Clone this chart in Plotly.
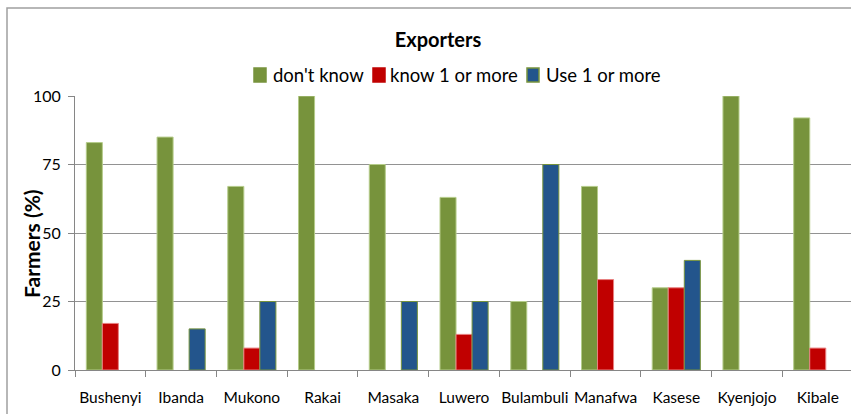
import plotly.graph_objects as go

districts = ["Bushenyi", "Ibanda", "Mukono", "Rakai", "Masaka", "Luwero",
             "Bulambuli", "Manafwa", "Kasese", "Kyenjojo", "Kibale"]
dont_know = [83, 85, 67, 100, 75, 63, 25, 67, 30, 100, 92]
know_one_or_more = [17, 0, 8, 0, 0, 13, 0, 33, 30, 0, 8]
use_one_or_more = [0, 15, 25, 0, 25, 25, 75, 0, 40, 0, 0]
y_ticks = [0, 25, 50, 75, 100]

series_names = ["don't know", "know 1 or more", "Use 1 or more"]
series_values = [dont_know, know_one_or_more, use_one_or_more]
fill_colors = ["#77933C", "#C00000", "#23558C"]
edge_colors = ["#B5CC8A", "#E88080", "#77933C"]

FONT = "Lato, 'Open Sans', sans-serif"

# plot-area pixel geometry used to place the frame, legend and axis title
L, R, T, B = 75, 851, 96, 370
def px_x(p):
    return (p - L) / (R - L)
def px_y(p):
    return (B - p) / (B - T)

fig = go.Figure()
for name, vals, fc, ec in zip(series_names, series_values, fill_colors, edge_colors):
    fig.add_bar(
        x=districts, y=vals, name=name, showlegend=False,
        marker=dict(color=fc,
                    line=dict(color=ec, width=[1 if v > 0 else 0 for v in vals])),
    )

fig.update_layout(
    width=851, height=414,
    margin=dict(l=L, r=851 - R, t=T, b=414 - B),
    paper_bgcolor="white", plot_bgcolor="white",
    barmode="group", bargap=0.32, bargroupgap=0.0,
    font=dict(family=FONT, color="#000000"),
    title=dict(text="<b>Exporters</b>", x=438 / 851, xanchor="center",
               y=1 - 40 / 414, yanchor="middle", yref="container",
               font=dict(size=20, family=FONT)),
    showlegend=False,
)
fig.update_xaxes(
    range=[-0.5, 10.47], tickson="boundaries", ticks="outside", tickangle=0,
    ticklen=6, tickcolor="#868686", showline=True, linecolor="#868686",
    linewidth=1, tickfont=dict(size=15.5, family=FONT), showgrid=False,
    ticklabelstandoff=13,
)
fig.update_yaxes(
    range=[0, 100], tickvals=y_ticks, ticks="outside", ticklen=6,
    tickcolor="#868686", showline=True, linecolor="#868686", linewidth=1,
    showgrid=True, gridcolor="#929292", gridwidth=1, zeroline=False,
    tickfont=dict(size=16, family=FONT), ticklabelstandoff=4,
)

# y-axis title
fig.add_annotation(text="<b>Farmers (%)</b>", xref="paper", yref="paper",
                   x=px_x(31), y=px_y(244), textangle=-90, showarrow=False,
                   xanchor="center", yanchor="middle",
                   font=dict(size=21, family=FONT))

# legend row: swatch squares followed by labels
legend_swatch_x = [254, 373, 527]
legend_text_x = [271, 388, 544]
for name, fc, ec, sx, tx in zip(series_names, fill_colors, edge_colors,
                                legend_swatch_x, legend_text_x):
    fig.add_shape(type="rect", xref="paper", yref="paper",
                  x0=px_x(sx), x1=px_x(sx + 12), y0=px_y(82), y1=px_y(68),
                  fillcolor=fc,
                  line=dict(color=ec if name == "Use 1 or more" else fc, width=1.5))
    fig.add_annotation(text=name, xref="paper", yref="paper",
                       x=px_x(tx), y=px_y(75), xanchor="left", yanchor="middle",
                       showarrow=False, font=dict(size=18.5, family=FONT))

# outer chart frame (left and top edges visible)
fig.add_shape(type="rect", xref="paper", yref="paper",
              x0=px_x(7), x1=1.2, y0=-0.5, y1=px_y(8),
              line=dict(color="#A0A0A0", width=1.5), layer="below")

fig.write_html("out.html")
